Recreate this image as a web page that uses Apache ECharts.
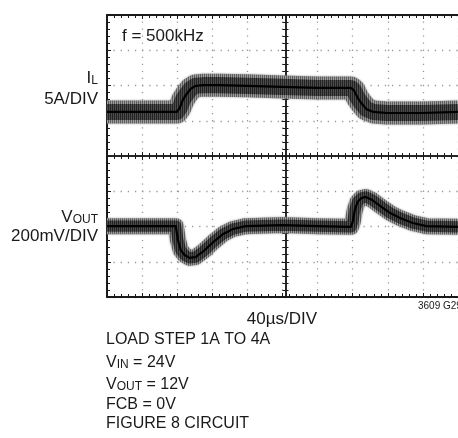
<!DOCTYPE html>
<html>
<head>
<meta charset="utf-8">
<script src="https://cdn.jsdelivr.net/npm/echarts@6/dist/echarts.min.js"></script>
<style>
  html, body { margin: 0; padding: 0; background: #fff; }
  #chart { width: 458px; height: 438px; }
</style>
</head>
<body>
<div id="chart"></div>
<script>
// scope screen: 10 horizontal divisions (40us/DIV), 8 vertical divisions
// trace data is read off the screen in divisions (x from left, y from bottom)
const ilTime = [0, 1.99, 2.07, 2.16, 2.27, 2.38, 2.52, 2.75, 3.17, 4.0, 5.0, 6.0, 6.95, 7.03, 7.14, 7.26, 7.39, 7.59, 7.98, 8.99, 10];
const ilLevel = [5.25, 5.25, 5.36, 5.59, 5.76, 5.9, 5.99, 6.01, 6.01, 5.99, 5.96, 5.93, 5.93, 5.87, 5.65, 5.48, 5.33, 5.25, 5.22, 5.22, 5.25];

const voutTime = [0, 1.96, 2.02, 2.1, 2.21, 2.35, 2.52, 2.75, 3.03, 3.31, 3.59, 3.95, 5.0, 6.0, 6.95, 7.0, 7.06, 7.14, 7.25, 7.37, 7.56, 7.79, 8.07, 8.35, 8.71, 9.1, 10];
const voutLevel = [2.01, 2.01, 1.62, 1.33, 1.19, 1.11, 1.13, 1.3, 1.56, 1.79, 1.93, 2.01, 2.04, 2.01, 1.99, 2.13, 2.47, 2.7, 2.81, 2.84, 2.75, 2.58, 2.38, 2.24, 2.1, 2.01, 1.99];

const noteLines = [
  "LOAD STEP 1A TO 4A",
  "{m|V}{s|IN}{m| = 24V}",
  "{m|V}{s|OUT}{m| = 12V}",
  "FCB = 0V",
  "FIGURE 8 CIRCUIT",
];

const FONT = "Liberation Sans, Arial, sans-serif";
const INK = "#1a1a1a";

// vertical stripes give the switching ripple texture of the band
function stripes(dark, light) {
  const c = document.createElement("canvas");
  c.width = 2;
  c.height = 1;
  const ctx = c.getContext("2d");
  ctx.fillStyle = light;
  ctx.fillRect(0, 0, 2, 1);
  ctx.fillStyle = dark;
  ctx.fillRect(0, 0, 1, 1);
  return { image: c, repeat: "repeat" };
}

function trace(time, level, bandWidth) {
  const data = time.map((t, i) => [t, level[i]]);
  const base = {
    type: "line",
    data: data,
    symbol: "none",
    silent: true,
    xAxisIndex: 0,
    yAxisIndex: 0,
  };
  return [
    { ...base, lineStyle: { width: bandWidth, color: stripes("#5e5e5e", "#9c9c9c"), join: "round", shadowBlur: 2, shadowColor: "rgba(110,110,110,0.6)" } },
    { ...base, lineStyle: { width: bandWidth * 0.7, color: stripes("#222", "#4c4c4c"), join: "round" } },
    { ...base, lineStyle: { width: 2.2, color: "#000", join: "round" } },
  ];
}

const gridDot = { color: "#9a9a9a", width: 1.3 };

function xAxis(position, offset, inside, split) {
  return {
    type: "value",
    min: 0,
    max: 10,
    interval: 1,
    position: position,
    offset: offset,
    axisLine: { show: true, onZero: false, lineStyle: { color: INK, width: offset ? 1.5 : 2 } },
    axisTick: { show: true, inside: inside, length: 4, lineStyle: { color: INK, width: 1 } },
    minorTick: { show: true, splitNumber: 5, length: 3, lineStyle: { color: INK, width: 1 } },
    axisLabel: { show: false },
    splitLine: { show: split, lineStyle: { ...gridDot, type: [1.3, 5.75], dashOffset: 0.65 } },
  };
}

function yAxis(offset, inside, split) {
  return {
    type: "value",
    min: 0,
    max: 8,
    interval: 1,
    position: "left",
    offset: offset,
    axisLine: { show: true, onZero: false, lineStyle: { color: INK, width: offset ? 1.5 : 2 } },
    axisTick: { show: true, inside: inside, length: 4, lineStyle: { color: INK, width: 1 } },
    minorTick: { show: true, splitNumber: 5, length: 3, lineStyle: { color: INK, width: 1 } },
    axisLabel: { show: false },
    splitLine: { show: split, lineStyle: { ...gridDot, type: [1.3, 5.84], dashOffset: 0.65 } },
  };
}

function richFor(size) {
  return {
    m: { fontSize: size, fontFamily: FONT, color: INK },
    s: { fontSize: Math.round(size * 0.72), fontFamily: FONT, color: INK, verticalAlign: "bottom", lineHeight: 9 },
  };
}

function label(x, y, text, align, size) {
  return {
    type: "text",
    x: x,
    y: y,
    silent: true,
    style: {
      text: text,
      fill: INK,
      font: size + "px " + FONT,
      align: align,
      verticalAlign: "middle",
      rich: richFor(size),
    },
  };
}

const graphic = [
  label(122, 36, "f = 500kHz", "left", 17),
  label(98, 78, "{m|I}{s|L}", "right", 17),
  label(98, 99, "5A/DIV", "right", 17),
  label(98, 217, "{m|V}{s|OUT}", "right", 17),
  label(98, 236, "200mV/DIV", "right", 17),
  label(282, 319, "40µs/DIV", "center", 17),
  label(418, 306, "3609 G29", "left", 10),
];
const noteY = [340, 363, 385, 405, 424];
noteLines.forEach((line, i) => {
  graphic.push(label(106, noteY[i], line.indexOf("{") >= 0 ? line : "{m|" + line + "}", "left", 16));
});

const chart = echarts.init(document.getElementById("chart"), null, { renderer: "canvas" });
chart.setOption({
  animation: false,
  backgroundColor: "#fff",
  grid: { left: 107, top: 15, width: 357, height: 282 },
  xAxis: [
    xAxis("bottom", 0, true, true),
    xAxis("top", 0, true, false),
    xAxis("bottom", -141, true, false),
    xAxis("bottom", -141, false, false),
  ],
  yAxis: [
    yAxis(0, true, true),
    yAxis(-178.5, true, false),
    yAxis(-178.5, false, false),
  ],
  series: [
    ...trace(ilTime, ilLevel, 23),
    ...trace(voutTime, voutLevel, 16),
  ],
  graphic: graphic,
});
</script>
</body>
</html>
